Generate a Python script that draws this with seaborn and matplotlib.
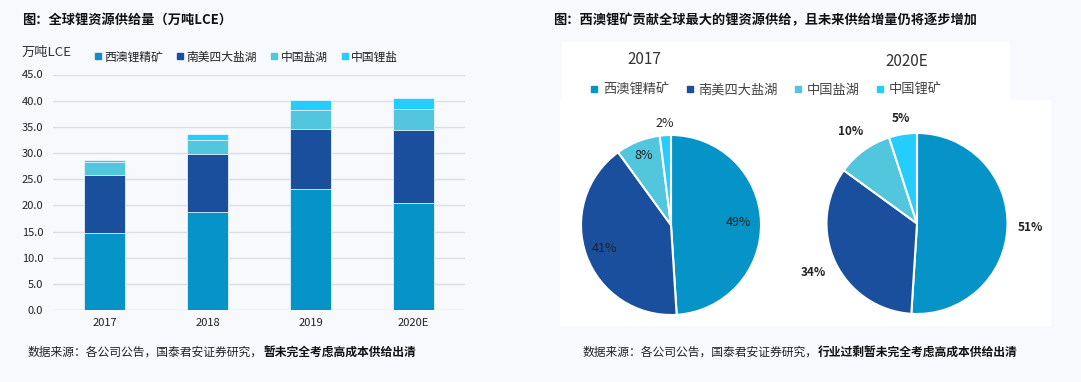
import numpy as np
import pandas as pd
import seaborn as sns
import matplotlib
matplotlib.use("Agg")
import matplotlib.pyplot as plt
from matplotlib.lines import Line2D
from matplotlib.patches import Rectangle

# ---------------- data ----------------
years = ["2017", "2018", "2019", "2020E"]
series = ["西澳锂精矿", "南美四大盐湖", "中国盐湖", "中国锂盐"]
wa_spodumene = [14.8, 18.7, 23.1, 20.5]
sa_brine = [11.0, 11.2, 11.5, 13.8]
cn_brine = [2.5, 2.5, 3.6, 4.2]
cn_salt = [0.3, 1.3, 2.0, 2.0]
yticks = [0, 5, 10, 15, 20, 25, 30, 35, 40, 45]

pie_series = ["西澳锂精矿", "南美四大盐湖", "中国盐湖", "中国锂矿"]
pie_2017 = [49, 41, 8, 2]
pie_2020 = [51, 34, 10, 5]

colors = ["#0593c8", "#1a4f9d", "#52c6dc", "#25cdfc"]

# ---------------- style ----------------
sns.set_theme(style="white")
plt.rcParams["font.family"] = ["Noto Sans CJK SC", "DejaVu Sans"]
plt.rcParams["axes.unicode_minus"] = False

W, H = 1081, 382
fig = plt.figure(figsize=(W / 100, H / 100), dpi=100)
fig.patch.set_facecolor("#f7f9fc")


def fx(px):
    return px / W


def fy(py):
    return 1 - py / H


# white boxes behind pies
fig.patches.append(Rectangle((fx(562), fy(100)), fx(1010) - fx(562), fy(42) - fy(100),
                             transform=fig.transFigure, facecolor="white", edgecolor="none", zorder=-5))
fig.patches.append(Rectangle((fx(560), fy(326)), fx(1051) - fx(560), fy(100) - fy(326),
                             transform=fig.transFigure, facecolor="white", edgecolor="none", zorder=-5))

# ---------------- stacked bar chart ----------------
ax = fig.add_axes([fx(53), fy(310), fx(465) - fx(53), fy(74.5) - fy(310)])
ax.set_facecolor("none")
df = pd.DataFrame({"year": years, series[0]: wa_spodumene, series[1]: sa_brine,
                   series[2]: cn_brine, series[3]: cn_salt})
cum = df[series].cumsum(axis=1)
for i in range(len(series) - 1, -1, -1):
    sns.barplot(x=df["year"], y=cum[series[i]], color=colors[i], width=0.4,
                saturation=1, ax=ax, edgecolor="#e8f4fa", linewidth=0.6, zorder=3)
ax.set_ylim(0, 45)
ax.set_xlim(-0.5, 3.5)
ax.set_yticks(yticks)
ax.set_yticklabels([f"{v:.1f}" for v in yticks])
ax.set_xlabel("")
ax.set_ylabel("")
ax.yaxis.grid(True, color="#dcdee2", linewidth=1, zorder=0)
ax.set_axisbelow(True)
for s in ax.spines.values():
    s.set_visible(False)
ax.tick_params(axis="both", length=0, labelsize=8, colors="#222222")
ax.tick_params(axis="y", pad=7)
ax.tick_params(axis="x", pad=6)

handles = [Line2D([], [], marker="s", linestyle="none", markersize=5, color=c) for c in colors]
fig.legend(handles, series, loc="center left", bbox_to_anchor=(fx(83), fy(57)),
           ncol=4, frameon=False, fontsize=8.5, handlelength=0.7, handletextpad=0.2,
           columnspacing=1.1, labelcolor="#222222")

fig.text(fx(22), fy(52), "万吨LCE", fontsize=9.5, color="#333333", va="center", ha="left")
fig.text(fx(22), fy(20), "图：全球锂资源供给量（万吨LCE）", fontsize=9.5, fontweight="bold",
         color="#111111", va="center", ha="left")

# ---------------- pies ----------------
def draw_pie(cx, cy, r, values, dists, bold):
    pax = fig.add_axes([fx(cx - r), fy(cy + r), fx(2 * r), fy(cy - r) - fy(cy + r)])
    pax.set_facecolor("none")
    wedges, _ = pax.pie(values, colors=colors, startangle=90, counterclock=False,
                        wedgeprops=dict(edgecolor="white", linewidth=1.5), radius=1)
    pax.set_xlim(-1, 1)
    pax.set_ylim(-1, 1)
    pax.set_aspect("equal")
    pax.axis("off")
    for w, v, d in zip(wedges, values, dists):
        ang = np.deg2rad((w.theta1 + w.theta2) / 2)
        pax.text(d * np.cos(ang), d * np.sin(ang), f"{v}%", ha="center", va="center",
                 fontsize=9 if not bold else 8.5, color="#222222",
                 fontweight="bold" if bold else "normal", clip_on=False)
    return pax


draw_pie(671, 225, 90, pie_2017, [0.75, 0.78, 0.83, 1.13], False)
draw_pie(917, 223.5, 90.5, pie_2020, [1.25, 1.26, 1.25, 1.17], True)

fig.text(fx(644), fy(59), "2017", fontsize=11, color="#333333", ha="center", va="center")
fig.text(fx(907), fy(61), "2020E", fontsize=11, color="#333333", ha="center", va="center")

handles2 = [Line2D([], [], marker="s", linestyle="none", markersize=5, color=c) for c in colors]
fig.legend(handles2, pie_series, loc="center left", bbox_to_anchor=(fx(578), fy(90)),
           ncol=4, frameon=False, fontsize=9.5, handlelength=0.7, handletextpad=0.3,
           columnspacing=1.2, labelcolor="#444444")

fig.text(fx(553), fy(20), "图：西澳锂矿贡献全球最大的锂资源供给，且未来供给增量仍将逐步增加",
         fontsize=9.5, fontweight="bold", color="#111111", va="center", ha="left")

# ---------------- footnotes ----------------
def footnote(x, normal, boldpart):
    t = fig.text(fx(x), fy(352), normal, fontsize=8.5, color="#222222", va="center", ha="left")
    ann = plt.annotate(boldpart, xy=(1, 0.5), xycoords=t, va="center", ha="left",
                       fontsize=8.5, fontweight="bold", color="#111111",
                       annotation_clip=False)
    return ann


footnote(28, "数据来源：各公司公告，国泰君安证券研究，", "暂未完全考虑高成本供给出清")
footnote(583, "数据来源：各公司公告，国泰君安证券研究，", "行业过剩暂未完全考虑高成本供给出清")

fig.savefig("out.png", dpi=100, facecolor=fig.get_facecolor())
